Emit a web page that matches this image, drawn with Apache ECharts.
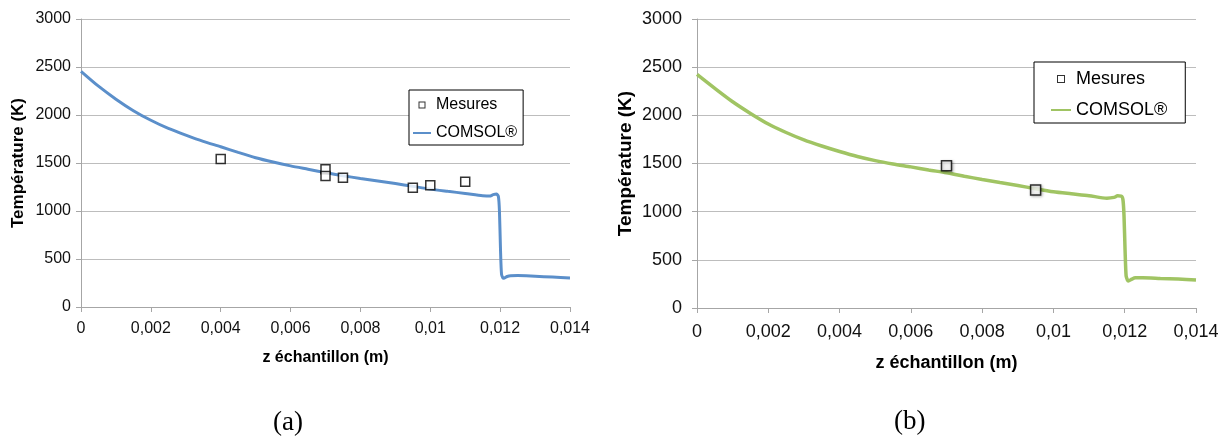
<!DOCTYPE html>
<html>
<head>
<meta charset="utf-8">
<script src="https://cdn.jsdelivr.net/npm/echarts@6/dist/echarts.min.js"></script>
<style>html,body{margin:0;padding:0;background:#fff}#c{width:1230px;height:439px}</style>
</head>
<body>
<div id="c"></div>
<script>
// ---- data (a) ----
const mesuresA = [[0.004,1542],[0.007,1434],[0.007,1365],[0.0075,1347],[0.0095,1243],[0.01,1267],[0.011,1305]];
const comsolA = [[0,2455],[0.0005,2300],[0.001,2165],[0.0015,2045],[0.002,1945],[0.0025,1860],[0.003,1790],[0.0035,1725],[0.004,1669],[0.0045,1610],[0.005,1555],[0.0055,1510],[0.006,1470],[0.0065,1435],[0.007,1400],[0.0075,1368],[0.008,1338],[0.0085,1312],[0.009,1286],[0.0095,1257],[0.01,1228],[0.0105,1205],[0.011,1183],[0.0115,1160],[0.0117,1155],[0.0118,1170],[0.0119,1176],[0.01195,1150],[0.01198,1000],[0.01201,600],[0.01204,340],[0.01208,303],[0.0121,300],[0.0122,318],[0.0123,326],[0.0125,327],[0.013,320],[0.0135,312],[0.014,303]];
// ---- data (b) ----
const mesuresB = [[0.007,1476],[0.0095,1224]];
const comsolB = [[0,2425],[0.0005,2280],[0.001,2141],[0.0015,2020],[0.002,1910],[0.0025,1822],[0.003,1745],[0.0035,1682],[0.004,1625],[0.0045,1573],[0.005,1530],[0.0055,1495],[0.006,1465],[0.0065,1433],[0.007,1403],[0.0075,1368],[0.008,1334],[0.0085,1302],[0.009,1272],[0.0095,1238],[0.01,1207],[0.0105,1186],[0.011,1166],[0.0115,1140],[0.0117,1148],[0.0118,1164],[0.0119,1162],[0.01195,1125],[0.01198,960],[0.01201,600],[0.01204,330],[0.01208,288],[0.0121,280],[0.0122,300],[0.0123,313],[0.0125,314],[0.013,307],[0.0135,300],[0.014,290]];
// ---- axes ----
const xMin = 0, xMax = 0.014, xStep = 0.002;
const yMin = 0, yMax = 3000, yStep = 500;
const xName = 'z échantillon (m)';
const yName = 'Température (K)';
const captions = ['(a)', '(b)'];

const FONT = "'Liberation Sans', Arial, sans-serif";
const fmtX = v => parseFloat(v.toFixed(4)).toString().replace('.', ',');
const fmtY = v => String(Math.round(v));

function xAxis(idx, fs, gap, margin) {
  return {
    type: 'value', gridIndex: idx, min: xMin, max: xMax, interval: xStep,
    name: xName, nameLocation: 'middle', nameGap: gap,
    nameTextStyle: {fontFamily: FONT, fontSize: fs, fontWeight: 'bold', color: '#000'},
    axisLine: {show: true, lineStyle: {color: '#a6a6a6', width: 1}},
    axisTick: {show: true, length: 5, lineStyle: {color: '#a6a6a6'}},
    axisLabel: {formatter: fmtX, fontFamily: FONT, fontSize: fs, color: '#111', margin: margin},
    splitLine: {show: false}
  };
}
function yAxis(idx, fs, nfs, gap, margin) {
  return {
    type: 'value', gridIndex: idx, min: yMin, max: yMax, interval: yStep,
    name: yName, nameLocation: 'middle', nameGap: gap, nameRotate: 90,
    nameTextStyle: {fontFamily: FONT, fontSize: nfs, fontWeight: 'bold', color: '#000'},
    axisLine: {show: true, lineStyle: {color: '#a6a6a6', width: 1}},
    axisTick: {show: true, length: 5, lineStyle: {color: '#a6a6a6'}},
    axisLabel: {formatter: fmtY, fontFamily: FONT, fontSize: fs, color: '#111', margin: margin},
    splitLine: {show: true, lineStyle: {color: '#bdbdbd', width: 1}}
  };
}

const hideSym = {color: 'rgba(0,0,0,0)', borderColor: 'rgba(0,0,0,0)', borderWidth: 0};
// hollow square centred in the legend icon box (zero-size end points keep the box width)
const sqIconA = 'path://M0,3.5L0,3.5ZM18,3.5L18,3.5ZM5.5,0L12.5,0L12.5,7L5.5,7ZM6.5,1L6.5,6L11.5,6L11.5,1Z';
const sqIconB = 'path://M0,4L0,4ZM20,4L20,4ZM6,0L14,0L14,8L6,8ZM7,1L7,7L13,7L13,1Z';
const sqStyle = {color: '#000', borderWidth: 0, borderColor: 'rgba(0,0,0,0)'};

const chart = echarts.init(document.getElementById('c'), null, {renderer: 'canvas'});
chart.setOption({
  backgroundColor: '#fff',
  animation: false,
  title: [
    {text: captions[0], left: 268, top: 404, textStyle: {fontFamily: "'Liberation Serif', 'Times New Roman', serif", fontSize: 27, fontWeight: 'normal', color: '#000'}},
    {text: captions[1], left: 889, top: 403, textStyle: {fontFamily: "'Liberation Serif', 'Times New Roman', serif", fontSize: 27, fontWeight: 'normal', color: '#000'}}
  ],
  grid: [
    {left: 81, top: 19, width: 489, height: 288},
    {left: 697, top: 19, width: 499, height: 289}
  ],
  xAxis: [xAxis(0, 16, 43, 14), xAxis(1, 18, 46, 15)],
  yAxis: [yAxis(0, 16, 17, 54, 10), yAxis(1, 18, 19, 62, 15)],
  legend: [
    {
      orient: 'vertical', left: 409, top: 90, padding: [7, 6, 4, 3], itemGap: 12,
      itemWidth: 18, itemHeight: 7,
      borderColor: '#000', borderWidth: 1, backgroundColor: '#fff',
      textStyle: {fontFamily: FONT, fontSize: 16, color: '#000'},
      data: [
        {name: 'Mesures', icon: sqIconA, itemStyle: sqStyle},
        {name: 'COMSOL®', itemStyle: hideSym}
      ]
    },
    {
      orient: 'vertical', left: 1034, top: 62, padding: [8, 18, 4, 16], itemGap: 13,
      itemWidth: 20, itemHeight: 8,
      borderColor: '#000', borderWidth: 1, backgroundColor: '#fff',
      textStyle: {fontFamily: FONT, fontSize: 18, color: '#000'},
      formatter: n => n.replace(' (b)', ''),
      data: [
        {name: 'Mesures (b)', icon: sqIconB, itemStyle: sqStyle},
        {name: 'COMSOL® (b)', itemStyle: hideSym}
      ]
    }
  ],
  series: [
    {
      name: 'COMSOL®', type: 'line', xAxisIndex: 0, yAxisIndex: 0, data: comsolA,
      showSymbol: false, symbol: 'none', smooth: 0.25,
      lineStyle: {color: '#5b8fca', width: 3}, itemStyle: {color: '#5b8fca'}, z: 2
    },
    {
      name: 'Mesures', type: 'scatter', xAxisIndex: 0, yAxisIndex: 0, data: mesuresA,
      symbol: 'rect', symbolSize: 9, symbolKeepAspect: true,
      itemStyle: {color: '#fff', borderColor: '#000', borderWidth: 1.5}, z: 3
    },
    {
      name: 'COMSOL® (b)', type: 'line', xAxisIndex: 1, yAxisIndex: 1, data: comsolB,
      showSymbol: false, symbol: 'none', smooth: 0.25,
      lineStyle: {color: '#a0c463', width: 3.5}, itemStyle: {color: '#a0c463'}, z: 2
    },
    {
      name: 'Mesures (b)', type: 'scatter', xAxisIndex: 1, yAxisIndex: 1, data: mesuresB,
      symbol: 'rect', symbolSize: 10, symbolKeepAspect: true,
      itemStyle: {color: '#fff', borderColor: '#000', borderWidth: 1.5, shadowColor: 'rgba(0,0,0,0.35)', shadowBlur: 3, shadowOffsetX: 1, shadowOffsetY: 1}, z: 3
    }
  ]
});
</script>
</body>
</html>
